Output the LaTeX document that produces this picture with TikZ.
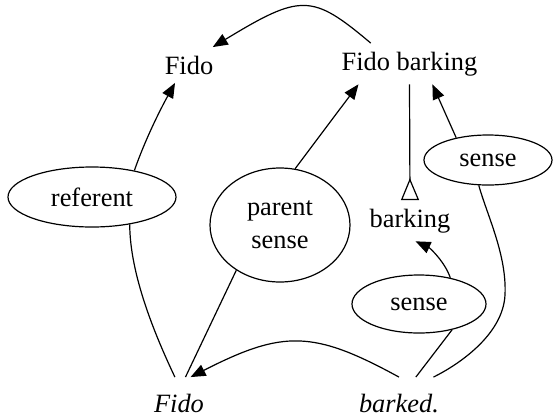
\documentclass[tikz,border=0pt]{standalone}
\usepackage{fontspec}
\newfontfamily\timesfont{Liberation Serif}
\usetikzlibrary{shapes.geometric}
\usetikzlibrary{arrows.meta}

\begin{document}
\begin{tikzpicture}[x=0.5pt, y=-0.5pt, line width=0.6pt,
    every node/.style={font=\timesfont\fontsize{13.2}{16.5}\selectfont},
    concept/.style={inner sep=4pt},
    word/.style={inner sep=8pt, font=\timesfont\fontsize{13.2}{16.5}\selectfont\itshape},
    role/.style={ellipse, draw, inner sep=0pt, align=center},
    to-arrow/.style={-{Triangle[length=7.5pt,width=6pt]}},
    isa/.style={-{Triangle[open,reversed,length=11pt,width=9pt]}}]
\useasboundingbox (0,0) rectangle (553,419);

\node[concept, anchor=base] (fido) at (189,74) {Fido};
\node[concept, anchor=base] (fidobarking) at (409.5,70) {Fido barking};
\node[concept, anchor=base] (barking) at (410,227) {barking};
\node[word, anchor=base] (fidoword) at (179,412) {Fido};
\node[word, anchor=base] (barked) at (399,412) {barked.};
\node[role, minimum width=84pt, minimum height=30pt] (referent) at (92,197) {referent};
\node[role, minimum width=70pt, minimum height=57pt] (parentsense) at (280,225) {parent\\sense};
\node[role, minimum width=64pt, minimum height=25pt] (sensetop) at (488,160) {sense};
\node[role, minimum width=67pt, minimum height=29pt] (sensebot) at (419,304) {sense};

\draw[to-arrow] (fidobarking.152) .. controls (312,-6.5) and (301,-6.5) .. (fido.37);
\draw[to-arrow] (referent.32) .. controls (145,140) and (160,110) .. (fido.232);
\draw (fidoword.99) .. controls (155,335) and (130,275) .. (referent.324);
\draw (fidoword.76) -- (parentsense.226);
\draw[to-arrow] (parentsense.75) -- (fidobarking.202);
\draw[isa] (fidobarking.south) -- (barking.north);
\draw[to-arrow] (barked.north) .. controls (313,330) and (283,330) .. (fidoword.66);
\draw (barked.57) -- (sensebot.322);
\draw[to-arrow] (sensebot.40) .. controls (445,262) and (430,248) .. (barking.-75);
\draw (barked.37) .. controls (458,365) and (503,335) .. (505,295)
  .. controls (507,255) and (487,215) .. (sensetop.250);
\draw[to-arrow] (sensetop.145) -- (fidobarking.318);
\end{tikzpicture}
\end{document}
